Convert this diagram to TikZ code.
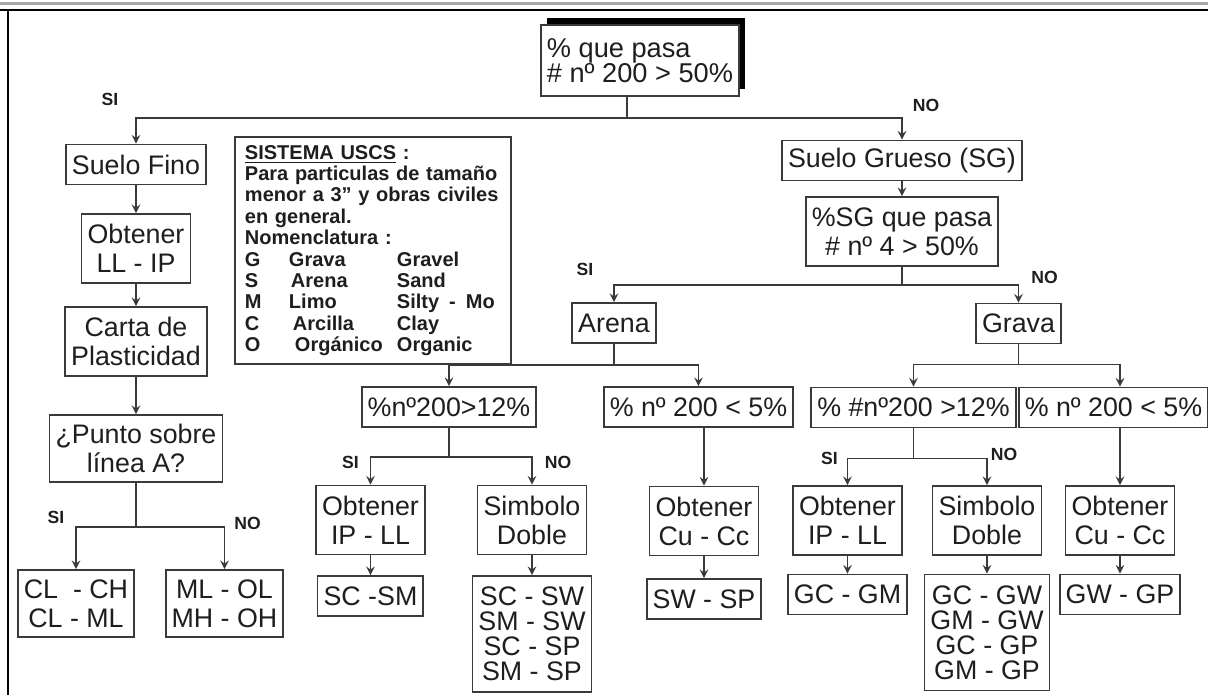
\documentclass[tikz,border=0pt]{standalone}
\usepackage{fontspec}
\setmainfont{Liberation Sans}
\usepackage{tikz}
\usetikzlibrary{arrows,shapes,positioning,shadows}
\definecolor{linegray}{HTML}{3A3A3A}
\definecolor{textgray}{HTML}{1E1E1E}
\tikzstyle{box} = [rectangle, draw=linegray, line width=0.9pt, fill=white, text=textgray, align=center, inner xsep=3pt, inner ysep=3pt, minimum height=20pt, font=\fontsize{13.4}{14.5}\selectfont]
\tikzstyle{tallbox} = [box, minimum height=34.5pt]
\tikzstyle{listbox} = [box, minimum height=58pt, font=\fontsize{13.4}{12.5}\selectfont]
\tikzstyle{topbox} = [box, align=left, minimum width=99pt, minimum height=35.5pt, font=\fontsize{13.6}{12.5}\selectfont, drop shadow={shadow xshift=3pt, shadow yshift=3.5pt, fill=black, opacity=1}]
\tikzstyle{legendbox} = [rectangle, draw=linegray, line width=0.9pt, text=textgray, align=left, text width=128pt, inner xsep=5pt, inner ysep=4pt, font=\fontsize{10}{10.7}\selectfont\bfseries]
\tikzstyle{lbl} = [text=textgray, font=\fontsize{8.8}{9}\selectfont\bfseries]
\tikzstyle{arrow} = [draw=linegray, line width=0.9pt, ->, >=stealth]

\begin{document}
\begin{tikzpicture}[node distance=42pt]
                    \useasboundingbox (-320pt,28.25pt) rectangle (284pt,-319.25pt);
                    \draw [gray!70, line width=1.5pt] (-320pt,26.5pt) -- (284pt,26.5pt);
                    \draw [black, line width=1pt] (-320pt,23.25pt) -- (284pt,23.25pt);
                    \draw [black, line width=1pt] (-316pt,23.25pt) -- (-316pt,-319.25pt);
                    \node (pasa) [topbox, yshift=-2pt] {\% que pasa\\\# nº 200 > 50\%};
                    \node (fino) [box, below of=pasa, xshift=-252pt, yshift=-10pt] {Suelo Fino};
                    \node (llip) [tallbox, below of=fino] {Obtener\\LL - IP};
                    \node (carta) [tallbox, below of=llip, yshift=-4.5pt] {Carta de\\Plasticidad};
                    \node (punto) [tallbox, below of=carta, yshift=-11.5pt, minimum height=33.5pt] {¿Punto sobre\\línea A?};
                    \node (clch) [tallbox, below of=punto, xshift=-30pt, yshift=-35.5pt, minimum height=33.5pt] {CL\ \ - CH\\CL - ML};
                    \node (mlol) [tallbox, right of=clch, xshift=32.25pt, minimum height=33.5pt] {ML - OL\\MH - OH};
                    \node (uscs) [legendbox, right of=llip, xshift=76.5pt, yshift=-1pt] {\underline{SISTEMA USCS} :\\
                        Para particulas de tamaño\\
                        menor a 3" y obras civiles\\
                        en general.\\
                        Nomenclatura :\\
                        \makebox[22pt][l]{G}\makebox[54pt][l]{Grava}Gravel\\
                        \makebox[22pt][l]{S}\makebox[54pt][l]{\hspace{1pt}Arena}Sand\\
                        \makebox[22pt][l]{M}\makebox[54pt][l]{Limo}Silty\hspace{5pt}-\hspace{5pt}Mo\\
                        \makebox[22pt][l]{C}\makebox[54pt][l]{\hspace{2pt}Arcilla}Clay\\
                        \makebox[22pt][l]{O}\makebox[54pt][l]{\hspace{3pt}Orgánico}Organic};
                    \node (grueso) [box, below of=pasa, xshift=131pt, yshift=-8pt] {Suelo Grueso (SG)};
                    \node (sg4) [tallbox, below of=grueso, yshift=6.5pt] {\%SG que pasa\\\# nº 4 > 50\%};
                    \node (arena) [box, below of=sg4, xshift=-144pt, yshift=-3.75pt] {Arena};
                    \node (grava) [box, below of=sg4, xshift=58.25pt, yshift=-4pt] {Grava};
                    \node (a12) [box, below of=arena, xshift=-82.5pt] {\%nº200>12\%};
                    \node (a5) [box, below of=arena, xshift=42.25pt] {\% nº 200 < 5\%};
                    \node (g12) [box, below of=grava, xshift=-52.5pt] {\% \#nº200 >12\%};
                    \node (g5) [box, below of=grava, xshift=47.5pt] {\% nº 200 < 5\%};
                    \node (aip) [tallbox, below of=a12, xshift=-39.25pt, yshift=-14.5pt] {Obtener\\IP - LL};
                    \node (asd) [tallbox, below of=a12, xshift=41.5pt, yshift=-14.5pt] {Simbolo\\Doble};
                    \node (acu) [tallbox, below of=a5, xshift=2.75pt, yshift=-15pt] {Obtener\\Cu - Cc};
                    \node (gip) [tallbox, below of=g12, xshift=-33pt, yshift=-14.5pt] {Obtener\\IP - LL};
                    \node (gsd) [tallbox, below of=g12, xshift=36.75pt, yshift=-14.5pt] {Simbolo\\Doble};
                    \node (gcu) [tallbox, below of=g5, xshift=3.25pt, yshift=-14.5pt] {Obtener\\Cu - Cc};
                    \node (scsm) [box, below of=aip, yshift=4pt] {SC -SM};
                    \node (sc4) [listbox, below of=asd, yshift=-15pt] {SC - SW\\SM - SW\\SC - SP\\SM - SP};
                    \node (swsp) [box, below of=acu, yshift=3pt] {SW - SP};
                    \node (gcgm) [box, below of=gip, yshift=5pt] {GC - GM};
                    \node (gc4) [listbox, below of=gsd, yshift=-14pt] {GC - GW\\GM - GW\\GC - GP\\GM - GP};
                    \node (gwgp) [box, below of=gcu, yshift=5pt] {GW - GP};
                    \node (si1) [lbl, above of=fino, xshift=-13pt, yshift=-9.5pt] {SI};
                    \node (no1) [lbl, above of=grueso, xshift=12pt, yshift=-14.5pt] {NO};
                    \node (si2) [lbl, above of=arena, xshift=-14.5pt, yshift=-15.25pt] {SI};
                    \node (no2) [lbl, above of=grava, xshift=13pt, yshift=-19pt] {NO};
                    \node (si3) [lbl, above of=clch, xshift=-10pt, yshift=1pt] {SI};
                    \node (no3) [lbl, above of=mlol, xshift=11.5pt, yshift=-2pt] {NO};
                    \node (si4) [lbl, above of=aip, xshift=-10pt, yshift=-13pt] {SI};
                    \node (no4) [lbl, above of=asd, xshift=13pt, yshift=-13pt] {NO};
                    \node (si5) [lbl, above of=gip, xshift=-9pt, yshift=-11pt] {SI};
                    \node (no5) [lbl, above of=gsd, xshift=8.5pt, yshift=-9pt] {NO};
                    \draw [arrow] ([xshift=-6.5pt]pasa.south) -- ++(0,-10.5pt) -| (fino);
                    \draw [arrow] ([xshift=-6.5pt]pasa.south) -- ++(0,-10.5pt) -| (grueso);
                    \draw [arrow] (fino) -- (llip);
                    \draw [arrow] (llip) -- (carta);
                    \draw [arrow] (carta) -- (punto);
                    \draw [arrow] (punto.south) -- ++(0,-22pt) -| (clch);
                    \draw [arrow] (punto.south) -- ++(0,-22pt) -| (mlol);
                    \draw [arrow] (grueso) -- (sg4);
                    \draw [arrow] (sg4.south) -- ++(0,-9pt) -| (arena);
                    \draw [arrow] (sg4.south) -- ++(0,-9pt) -| (grava);
                    \draw [arrow] (arena.south) -- ++(0,-10.5pt) -| (a12);
                    \draw [arrow] (arena.south) -- ++(0,-10.5pt) -| (a5);
                    \draw [arrow] (grava.south) -- ++(0,-10pt) -| (g12);
                    \draw [arrow] (grava.south) -- ++(0,-10pt) -| (g5.north -| gcu.north);
                    \draw [arrow] (a12.south) -- ++(0,-14.5pt) -| (aip);
                    \draw [arrow] (a12.south) -- ++(0,-14.5pt) -| (asd);
                    \draw [arrow] (a5.south -| acu.north) -- (acu);
                    \draw [arrow] (g12.south) -- ++(0,-15pt) -| (gip);
                    \draw [arrow] (g12.south) -- ++(0,-15pt) -| (gsd);
                    \draw [arrow] (g5.south -| gcu.north) -- (gcu);
                    \draw [arrow] (aip) -- (scsm);
                    \draw [arrow] (asd) -- (sc4);
                    \draw [arrow] (acu) -- (swsp);
                    \draw [arrow] (gip) -- (gcgm);
                    \draw [arrow] (gsd) -- (gc4);
                    \draw [arrow] (gcu) -- (gwgp);
                \end{tikzpicture}
\end{document}
